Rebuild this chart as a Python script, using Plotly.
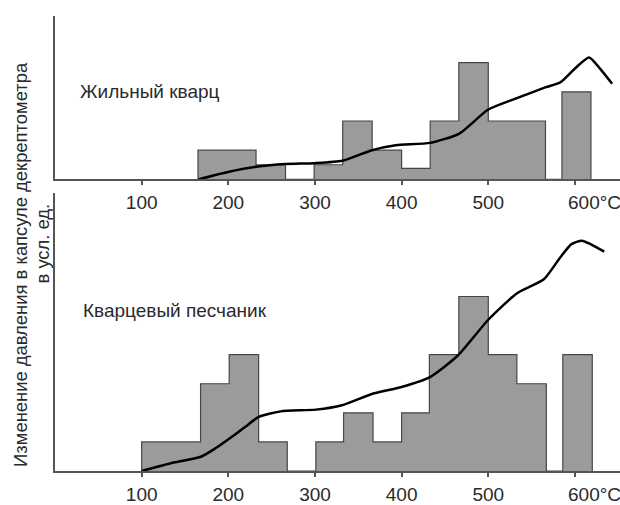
import plotly.graph_objects as go

# ---------------- data ----------------
# Top panel: vein quartz (Жильный кварц)
top_edges = [165, 232, 266, 299, 332, 366, 400, 433, 466, 500, 566, 585, 618.5]
top_heights = [2, 1, 0, 1, 4, 2, 0.75, 4, 8, 4, 0, 6]
top_curve_t = [165.5, 200.8, 232, 265.9, 299.3, 331.8, 365.8, 393.2, 433.1, 466.6,
               499.6, 530.7, 566.5, 583.4, 599.4, 616.4, 629.2, 642.9]
top_curve_p = [0, 0.52, 0.86, 1.05, 1.11, 1.27, 2.0, 2.34, 2.5, 3.14,
               4.77, 5.52, 6.32, 6.66, 7.57, 8.36, 7.57, 6.55]

# Bottom panel: quartz sandstone (Кварцевый песчаник)
bot_edges = [100, 168, 201, 235, 268, 301, 333, 367, 400, 432, 466, 500, 533, 567, 586, 620]
bot_heights = [1, 3, 4, 1, 0, 1, 2, 1, 2, 4, 6, 4, 3, 0, 4]
bot_curve_t = [100, 132.8, 168.3, 185.1, 201, 219.2, 235.1, 260.2, 301.1, 331.1, 364.8,
               399.8, 432.2, 464.9, 500, 533.2, 564.1, 583.2, 596, 608, 618, 633.8]
bot_curve_p = [0, 0.26, 0.49, 0.78, 1.11, 1.51, 1.86, 2.05, 2.11, 2.26, 2.64,
               2.89, 3.22, 3.97, 5.2, 6.11, 6.59, 7.35, 7.8, 7.92, 7.8, 7.54]

tick_vals = [100, 200, 300, 400, 500, 600]
tick_text = ["100", "200", "300", "400", "500", ""]
last_tick_label = "600°C"

title_line1 = "Изменение давления в капсуле декрептометра"
title_line2 = "в усл. ед."
top_label = "Жильный кварц"
bot_label = "Кварцевый песчаник"

# ---------------- helpers ----------------
def step_xy(edges, heights):
    xs = [edges[0]] + edges[:-1] + [edges[-1]]
    ys = [0] + heights + [0]
    return xs, ys

FONT = "Liberation Sans, Arial, sans-serif"
FS = 19
BAR_FILL = "#9b9b9b"
BAR_LINE = "#474747"
AXIS_COLOR = "#555555"
TXT = "#2a2a2a"

fig = go.Figure()

tx, ty = step_xy(top_edges, top_heights)
fig.add_trace(go.Scatter(x=tx, y=ty, xaxis="x2", yaxis="y2", mode="lines",
                         line=dict(shape="hv", color=BAR_LINE, width=1.2),
                         fill="tozeroy", fillcolor=BAR_FILL, hoverinfo="skip"))
fig.add_trace(go.Scatter(x=top_curve_t, y=top_curve_p, xaxis="x2", yaxis="y2", mode="lines",
                         line=dict(shape="spline", smoothing=0.6, color="black", width=2.5)))

bx, by = step_xy(bot_edges, bot_heights)
fig.add_trace(go.Scatter(x=bx, y=by, xaxis="x", yaxis="y", mode="lines",
                         line=dict(shape="hv", color=BAR_LINE, width=1.2),
                         fill="tozeroy", fillcolor=BAR_FILL, hoverinfo="skip"))
fig.add_trace(go.Scatter(x=bot_curve_t, y=bot_curve_p, xaxis="x", yaxis="y", mode="lines",
                         line=dict(shape="spline", smoothing=0.6, color="black", width=2.5)))

xcommon = dict(range=[0, 652], showline=True, linecolor=AXIS_COLOR, linewidth=1.5,
               ticks="outside", ticklen=4, tickcolor=AXIS_COLOR, tickwidth=1.5,
               ticklabelstandoff=1,
               tickvals=tick_vals, ticktext=tick_text, showgrid=False, zeroline=False,
               tickfont=dict(family=FONT, size=FS, color=TXT), fixedrange=True)
ycommon = dict(showline=True, linecolor=AXIS_COLOR, linewidth=1.5, showticklabels=False,
               ticks="", showgrid=False, zeroline=False, fixedrange=True)

fig.update_layout(
    width=620, height=505,
    margin=dict(l=55, r=0, t=16, b=32),
    paper_bgcolor="white", plot_bgcolor="white",
    showlegend=False,
    xaxis=dict(domain=[0, 1], anchor="y", **xcommon),
    yaxis=dict(domain=[0, 0.6105], range=[0, 9.55], anchor="x", **ycommon),
    xaxis2=dict(domain=[0, 1], anchor="y2", **xcommon),
    yaxis2=dict(domain=[0.641, 1], range=[0, 11.2], anchor="x2", **ycommon),
)

annots = []
for xa, ya in (("x", "y"), ("x2", "y2")):
    annots.append(dict(x=600, y=0, xref=xa, yref=ya, text=last_tick_label, showarrow=False,
                       xanchor="left", yanchor="top", xshift=-9, yshift=-11,
                       font=dict(family=FONT, size=FS, color=TXT)))
annots.append(dict(x=0, y=0.453, xref="paper", yref="paper", text=title_line1, showarrow=False,
                   textangle=-90, xanchor="center", yanchor="middle", xshift=-34,
                   font=dict(family=FONT, size=18.4, color=TXT)))
annots.append(dict(x=0, y=0.50, xref="paper", yref="paper", text=title_line2, showarrow=False,
                   textangle=-90, xanchor="center", yanchor="middle", xshift=-13,
                   font=dict(family=FONT, size=18.4, color=TXT)))
annots.append(dict(x=0.0407, y=0.8337, xref="paper", yref="paper", text=top_label, showarrow=False,
                   xanchor="left", yanchor="middle",
                   font=dict(family=FONT, size=FS, color=TXT)))
annots.append(dict(x=0.046, y=0.352, xref="paper", yref="paper", text=bot_label, showarrow=False,
                   xanchor="left", yanchor="middle",
                   font=dict(family=FONT, size=FS, color=TXT)))
fig.update_layout(annotations=annots)

fig.write_html("out.html", config=dict(displayModeBar=False),
               post_script="document.body.style.margin='0';document.body.style.overflow='hidden';")
